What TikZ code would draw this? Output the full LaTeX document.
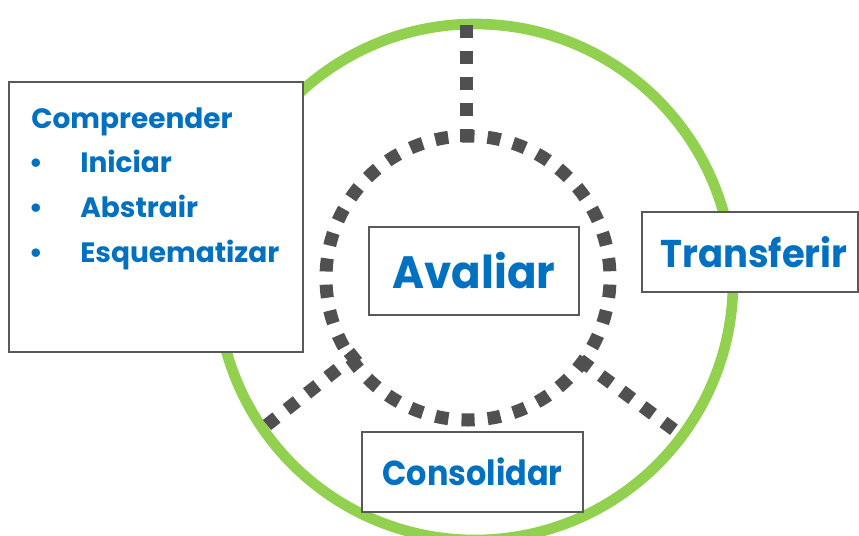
\documentclass[tikz,border=0pt]{standalone}
\usepackage{fontspec}
\setmainfont{Poppins}
\definecolor{ringgreen}{HTML}{92D050}
\definecolor{dotgray}{HTML}{505050}
\definecolor{boxgray}{HTML}{595959}
\definecolor{txtblue}{HTML}{0070C0}
\begin{document}
\begin{tikzpicture}[x=0.75pt,y=-0.75pt,
  ring/.style={draw=ringgreen,line width=8pt},
  dotring/.style={draw=dotgray,line width=9.75pt,dash pattern=on 9.84pt off 9.84pt,dash phase=14.76pt},
  dotline/.style={draw=dotgray,line width=9.75pt,dash pattern=on 9.75pt off 9.75pt},
  labelbox/.style={draw=boxgray,line width=1.5pt,fill=white,inner sep=0pt,text=txtblue,font=\bfseries},
  listtext/.style={inner sep=0pt,text=txtblue,font=\bfseries\fontsize{21}{21}\selectfont}]
\useasboundingbox (0,0) rectangle (859,535);
% outer green ring
\draw[ring] (475,282) circle [radius=258];
% inner dotted ring
\coordinate (c) at (468,278);
\draw[dotring] (c) circle [radius=142];
% spokes
\coordinate (vin) at (466,142);
\coordinate (vout) at (466,25);
\coordinate (lin) at (358,353);
\coordinate (lout) at (267,425);
\coordinate (rin) at (580,360);
\coordinate (rout) at (677,432);
\draw[dotline] (vin) -- (vout);
\draw[dotline] (lin) -- (lout);
\draw[dotline] (rin) -- (rout);
% boxes
\node[labelbox,minimum width=157.5pt,minimum height=66pt] (avaliar) at (474,271) {\scalebox{0.96}[1]{\fontsize{34}{34}\selectfont Avaliar}};
\node[labelbox,minimum width=162pt,minimum height=60pt] (transferir) at (750,252) {\hspace{6pt}\scalebox{0.955}[1]{\fontsize{29}{29}\selectfont Transferir}};
\node[labelbox,minimum width=165.75pt,minimum height=60pt] (consolidar) at (472.5,472) {\scalebox{0.92}[1]{\fontsize{26}{26}\selectfont Consolidar}};
\node[labelbox,minimum width=220.5pt,minimum height=202.5pt] (compbox) at (156,217) {};
\node[listtext,anchor=base west] (comp) at (31,128) {Compreender};
\node[listtext,anchor=base] (b1) at (36,172) {\textbullet};
\node[listtext,anchor=base] (b2) at (36,217) {\textbullet};
\node[listtext,anchor=base] (b3) at (36,262) {\textbullet};
\node[listtext,anchor=base west] (i1) at (80,172) {Iniciar};
\node[listtext,anchor=base west] (i2) at (80,217) {Abstrair};
\node[listtext,anchor=base west] (i3) at (80,262) {Esquematizar};
\end{tikzpicture}
\end{document}
